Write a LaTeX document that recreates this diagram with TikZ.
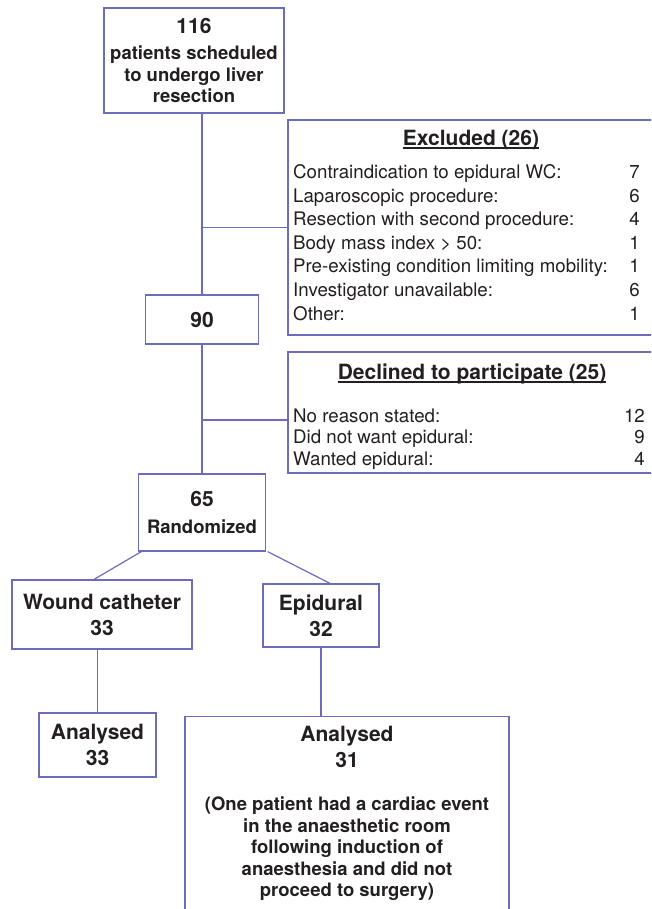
\documentclass[tikz,border=0pt]{standalone}
\usepackage{fontspec}
\setmainfont{TeX Gyre Heros}
\definecolor{ink}{RGB}{35,31,32}
\definecolor{frame}{RGB}{108,108,186}
\newcommand\bigf{\fontsize{21}{26}\selectfont\bfseries}
\newcommand\smallf{\fontsize{18.5}{21.5}\selectfont\bfseries}
\newcommand\itemf{\fontsize{18.7}{23.5}\selectfont}
\tikzset{box/.style={draw=frame,line width=1.2pt,text=ink,align=center,inner sep=0pt},
  line/.style={draw=frame,line width=1.2pt},
  head/.style={text=ink,font=\bigf,inner sep=0pt},
  item/.style={text=ink,font=\itemf,inner sep=0pt}}
\begin{document}
\begin{tikzpicture}[x=1pt,y=-1pt]
\useasboundingbox (0,0) rectangle (651,909);
\clip (0,0) rectangle (651,909);
\node[box,font=\smallf,minimum width=180pt,minimum height=105pt] (top) at (194,60.5) {{\bigf 116}\\[4.5pt]patients scheduled\\to undergo liver\\resection};
\node[box,font=\bigf,minimum width=113pt,minimum height=49pt] (n90) at (202,319.5) {90};
\node[box,font=\smallf,minimum width=127pt,minimum height=77pt] (n65) at (202,512.5) {{\bigf 65}\\[5.5pt]Randomized};
\node[box,font=\bigf,minimum width=180pt,minimum height=69pt] (wound) at (102,614.5) {Wound catheter\\33};
\node[box,font=\bigf,minimum width=116pt,minimum height=63pt] (epid) at (321,615.5) {Epidural\\32};
\node[box,font=\bigf,minimum width=117pt,minimum height=64pt] (an33) at (97.5,745) {Analysed\\33};
\node[box,font=\smallf,minimum width=324pt,inner ysep=10pt,text depth=35pt,anchor=north] (an31) at (347,716) {{\bigf Analysed}\\[4.5pt]{\bigf 31}\\[21.5pt](One patient had a cardiac event\\in the anaesthetic room\\following induction of\\anaesthesia and did not\\proceed to surgery)};
\node[box,minimum width=367pt,minimum height=215pt] (excl) at (471.5,227.5) {};
\node[head,anchor=base] (exclt) at (471,145.5) {Excluded (26)};
\draw[ink,line width=1.1pt] ([yshift=-2.5pt]exclt.base west) -- ([yshift=-2.5pt]exclt.base east);
\foreach \t/\n [count=\i from 0] in {Contraindication to epidural WC:/7,Laparoscopic procedure:/6,Resection with second procedure:/4,Body mass index > 50:/1,Pre-existing condition limiting mobility:/1,Investigator unavailable:/6,Other:/1}{
  \node[item,anchor=base west] (exl\i) at (293,178.5+23.6*\i) {\t};
  \node[item,anchor=base east] (exn\i) at (640,178.5+23.6*\i) {\n};}
\node[box,minimum width=367pt,minimum height=121pt] (decl) at (471.5,412.5) {};
\node[head,anchor=base] (declt) at (472,379.5) {Declined to participate (25)};
\draw[ink,line width=1.1pt] ([yshift=-2.5pt]declt.base west) -- ([yshift=-2.5pt]declt.base east);
\foreach \t/\n [count=\i from 0] in {No reason stated:/12,Did not want epidural:/9,Wanted epidural:/4}{
  \node[item,anchor=base west] (dcl\i) at (293,422+21.7*\i) {\t};
  \node[item,anchor=base east] (dcn\i) at (645,422+21.7*\i) {\n};}
\draw[line] (top.south -| n90.north) -- (n90.north);
\draw[line] (n90.north |- excl.west) -- (excl.west);
\draw[line] (n90.south) -- (n65.north);
\coordinate (d) at ([yshift=-7.5pt]decl.west);
\draw[line] (n90.south |- d) -- (d);
\draw[line] ([xshift=3.5pt]n65.south west) -- ([xshift=-8pt]wound.north);
\draw[line] ([xshift=1.5pt]n65.south east) -- ([xshift=9pt]epid.north);
\draw[line] (wound.south -| an33.north) -- (an33.north);
\draw[line] (epid.south) -- (epid.south |- an31.north);
\end{tikzpicture}
\end{document}
